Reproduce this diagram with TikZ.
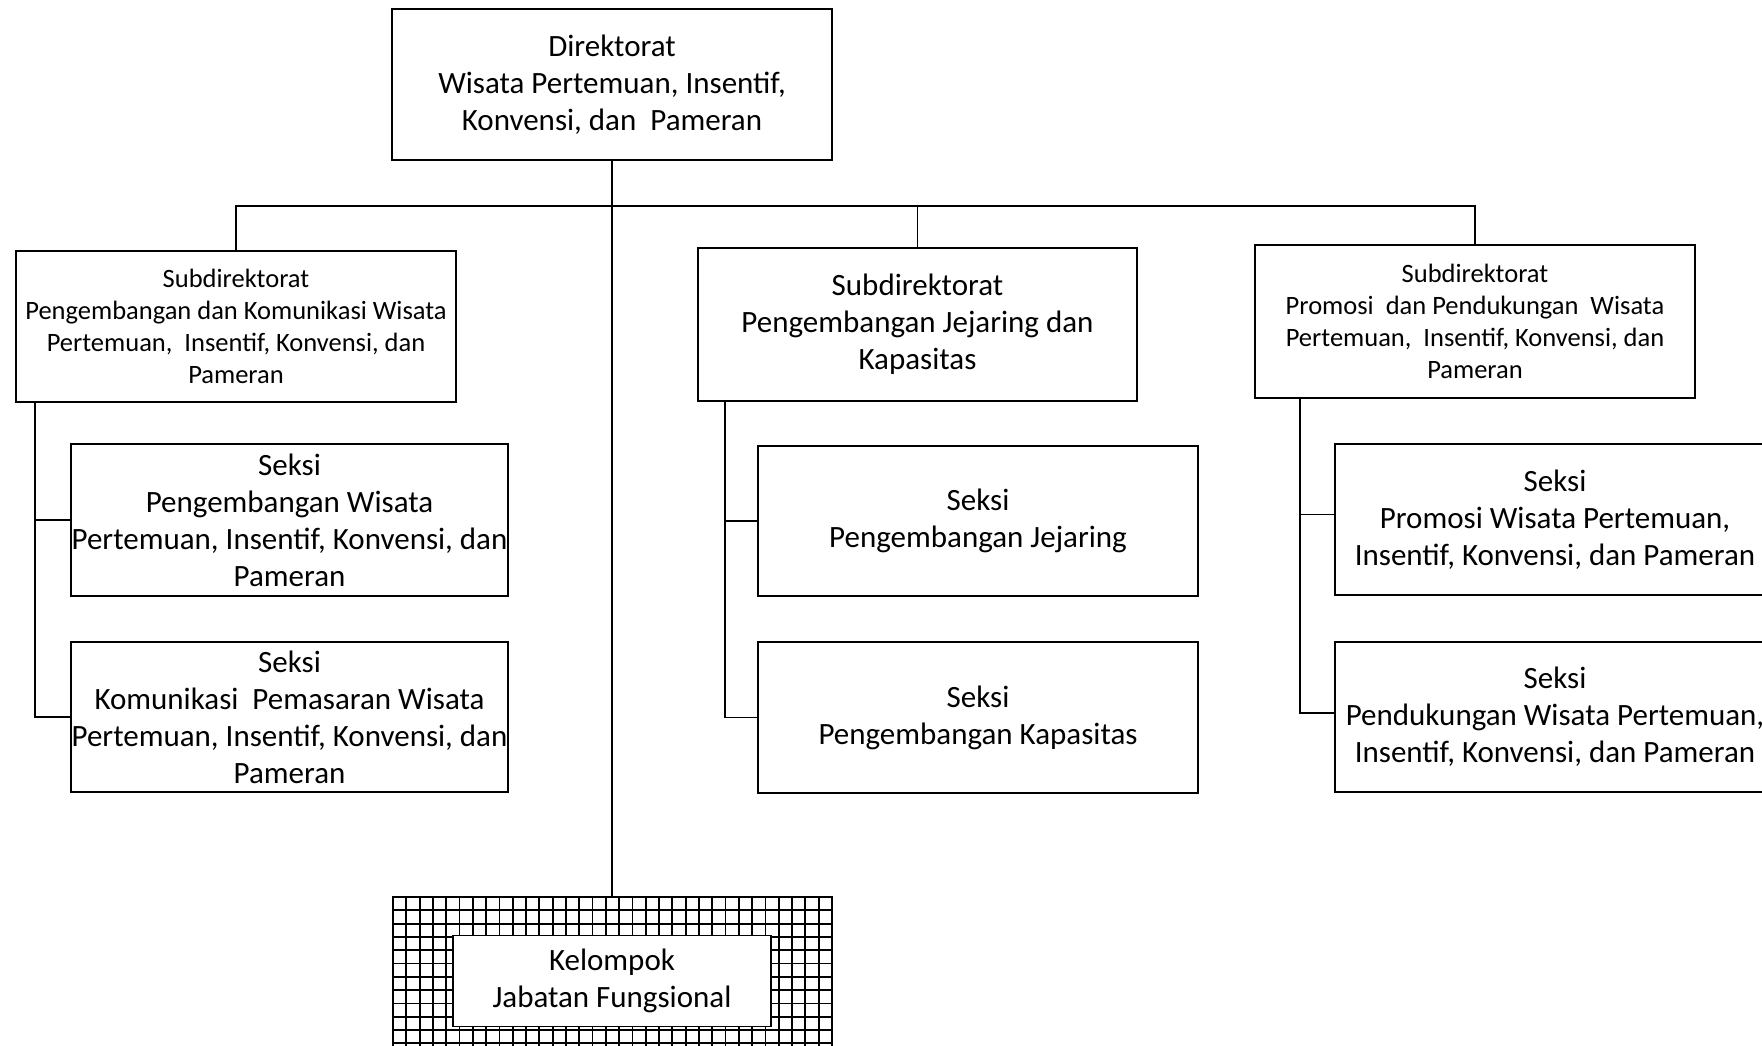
\documentclass[tikz,border=0pt]{standalone}
\usepackage{fontspec}
\setmainfont{Carlito}
\begin{document}
\begin{tikzpicture}[x=1pt, y=-1pt, line cap=rect, line join=miter,
  box/.style={draw, line width=1.6pt, align=center, inner sep=0pt, fill=white},
  bigtext/.style={font=\fontsize{31}{37}\selectfont},
  smalltext/.style={font=\fontsize{26.5}{32}\selectfont},
  link/.style={line width=1.6pt}]
  \useasboundingbox (0,0) rectangle (1762,1046);
  \clip (0,0) rectangle (1762,1046);

  % Direktorat
  \node[box, bigtext, minimum width=440, minimum height=151] (dir) at (612,84.5)
    {Direktorat\\Wisata Pertemuan, Insentif,\\Konvensi, dan~ Pameran};

  % Subdirektorat boxes
  \node[box, smalltext, minimum width=440, minimum height=151] (lsub) at (236,326.5)
    {Subdirektorat\\Pengembangan dan Komunikasi Wisata\\Pertemuan,~ Insentif, Konvensi, dan\\Pameran};
  \node[box, bigtext, minimum width=439, minimum height=153] (msub) at (917.5,324.5)
    {Subdirektorat\\Pengembangan Jejaring dan\\Kapasitas};
  \node[box, smalltext, minimum width=440, minimum height=153] (rsub) at (1475,321.5)
    {Subdirektorat\\Promosi~ dan Pendukungan~ Wisata\\Pertemuan,~ Insentif, Konvensi, dan\\Pameran};

  % Seksi boxes
  \node[box, bigtext, minimum width=437, minimum height=152] (lsek1) at (289.5,520)
    {Seksi\\Pengembangan Wisata\\Pertemuan, Insentif, Konvensi, dan\\Pameran};
  \node[box, bigtext, minimum width=437, minimum height=150] (lsek2) at (289.5,717)
    {Seksi\\Komunikasi~ Pemasaran Wisata\\Pertemuan, Insentif, Konvensi, dan\\Pameran};
  \node[box, bigtext, minimum width=440, minimum height=150] (msek1) at (978,521)
    {Seksi\\Pengembangan Jejaring};
  \node[box, bigtext, minimum width=440, minimum height=151] (msek2) at (978,717.5)
    {Seksi\\Pengembangan Kapasitas};
  \node[box, bigtext, minimum width=440, minimum height=151] (rsek1) at (1555,519.5)
    {Seksi\\Promosi Wisata Pertemuan,\\Insentif, Konvensi, dan Pameran};
  \node[box, bigtext, minimum width=440, minimum height=150] (rsek2) at (1555,717)
    {Seksi\\Pendukungan Wisata Pertemuan,\\Insentif, Konvensi, dan Pameran};

  % Kelompok Jabatan Fungsional (grid frame)
  \coordinate (gridNW) at (393,897);
  \coordinate (gridSE) at (832,1080);
  \begin{scope}
    \clip (gridNW) rectangle (gridSE);
    \draw[line width=1.8pt, step=13.3pt, shift={(393,897)}] (0,0) grid (440,183);
  \end{scope}
  \draw[link] (gridNW) rectangle (gridSE);
  \node[box, bigtext, minimum width=318, minimum height=91] (kel) at (612,981)
    {Kelompok\\Jabatan Fungsional};

  % Connectors
  \coordinate (bus) at (612,206);
  \draw[link] (dir.south) -- (gridNW -| dir.south);
  \draw[link] (lsub.north) |- (bus) -| (rsub.north);
  \draw[link] (bus -| msub.north) -- (msub.north);

  % Spines to the Seksi boxes
  \coordinate (lspine) at (35,0);
  \coordinate (mspine) at (725,0);
  \coordinate (rspine) at (1300,0);
  \draw[link] (lspine |- lsub.south) |- (lsek2.west);
  \draw[link] (lspine |- lsek1.west) -- (lsek1.west);
  \draw[link] (mspine |- msub.south) |- (msek2.west);
  \draw[link] (mspine |- msek1.west) -- (msek1.west);
  \draw[link] (rspine |- rsub.south) |- ([yshift=4]rsek2.west);
  \draw[link] ([yshift=5]rspine |- rsek1.west) -- ([yshift=5]rsek1.west);
\end{tikzpicture}
\end{document}
